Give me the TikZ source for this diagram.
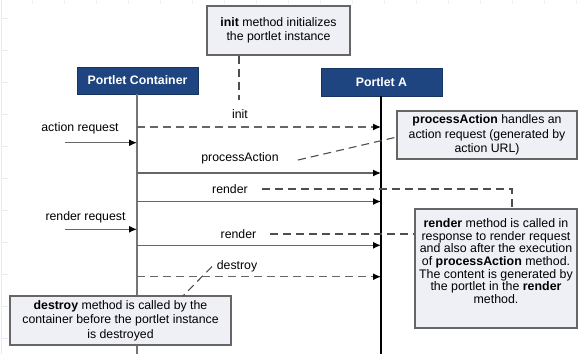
\documentclass[tikz,border=0pt]{standalone}
\usepackage{fontspec}
\setmainfont{Liberation Sans}
\usetikzlibrary{arrows.meta}

\definecolor{hdrblue}{HTML}{1F4580}
\definecolor{hdredge}{HTML}{163563}
\definecolor{notefill}{HTML}{EFEFF6}
\definecolor{noteedge}{HTML}{666666}
\definecolor{linegray}{HTML}{666666}
\definecolor{dashgray}{HTML}{4E4E4E}
\definecolor{gridblue}{HTML}{E6EBFA}

\begin{document}
\begin{tikzpicture}[x=1pt,y=-1pt,
  every node/.style={font=\fontsize{12.3}{14.5}\selectfont, inner sep=0pt},
  header/.style={draw=hdredge, fill=hdrblue, text=white, line width=0.8pt,
    font=\fontsize{12.3}{14.5}\selectfont\bfseries},
  note/.style={draw=noteedge, fill=notefill, line width=1.3pt, align=center},
  msg/.style={draw=linegray, line width=1.3pt,
    -{Latex[length=8pt,width=7pt,color=black]}},
  asyncmsg/.style={msg, dash pattern=on 8pt off 5pt},
  notelink/.style={draw=dashgray, line width=1.1pt, dash pattern=on 8pt off 5pt},
  gridtick/.style={draw=gridblue, line width=0.7pt}
]
\useasboundingbox (0,0) rectangle (578,354);

% faint page ruler ticks
\draw[gridtick] (1,0) -- (1,354);
\foreach \gx in {32,64,...,576} \draw[gridtick] (\gx,0) -- (\gx+1,4);
\foreach \gy in {18.7,50.7,...,340} \draw[gridtick] (2,\gy) -- (8,\gy);

% participants
\node[header, minimum width=121, minimum height=27] (hdrC) at (137.5,80.5) {Portlet Container};
\node[header, minimum width=121, minimum height=28] (hdrA) at (381.5,82) {Portlet A};

% lifelines
\coordinate (cEnd) at (137,354);
\coordinate (aEnd) at (381,354);
\draw[linegray!90, line width=1.8pt] (hdrC.south -| cEnd) -- (cEnd);
\draw[black, line width=1.2pt] (hdrA.south -| aEnd) -- (aEnd);

% message endpoints on the lifelines
\foreach \nm/\yy in {init/127, pa/173, r1/201.5, r2/245.3, des/276.7} {
  \coordinate (c-\nm) at (137,\yy);
  \coordinate (a-\nm) at (381,\yy);
}
\coordinate (c-areq) at (137,142.7);
\coordinate (c-rreq) at (137,229.3);
\coordinate (src-areq) at (65,142.7);
\coordinate (src-rreq) at (65,229.3);

% messages
\draw[asyncmsg] (c-init) -- (a-init);
\draw[msg] (src-areq) -- (c-areq);
\draw[msg] (c-pa) -- (a-pa);
\draw[msg] (c-r1) -- (a-r1);
\draw[msg] (src-rreq) -- (c-rreq);
\draw[msg] (c-r2) -- (a-r2);
\draw[asyncmsg] (c-des) -- (a-des);

% message labels
\node (lblInit) at (240,114) {init};
\node (lblAreq) at (80,128) {action request};
\node (lblPA) at (240,158) {processAction};
\node (lblR1) at (230,189) {render};
\node (lblRreq) at (85.5,217.5) {render request};
\node (lblR2) at (238.5,234) {render};
\node (lblDes) at (237,266.5) {destroy};

% notes
\node[note, minimum width=143, minimum height=49] (noteInit) at (278.5,30.5)
  {\textbf{init} method initializes\\the portlet instance};
\node[note, minimum width=180, minimum height=48] (notePA) at (487,135)
  {\textbf{processAction} handles an\\action request (generated by\\action URL)};
\node[note, minimum width=162, minimum height=119] (noteR) at (496,268.5) {};
\node[align=center, font=\fontsize{12.4}{12.7}\selectfont] (noteRtext) at (496,261)
  {\textbf{render} method is called in\\response to render request\\and also after the execution\\of \textbf{processAction} method.\\The content is generated by\\the portlet in the \textbf{render}\\method.};
\node[note, minimum width=221, minimum height=49] (noteD) at (120.5,320.5)
  {\textbf{destroy} method is called by the\\container before the portlet instance\\is destroyed};

% note links
\coordinate (initLinkEnd) at (239,100);
\draw[notelink] (noteInit.south -| initLinkEnd) -- (initLinkEnd);

\coordinate (paLinkStart) at (298,160);
\coordinate (paLinkEnd) at (397,137);
\draw[notelink] (paLinkStart) -- (paLinkEnd);

\coordinate (r1LinkStart) at (262,189);
\coordinate (r1LinkCorner) at (512,189);
\draw[notelink] (r1LinkStart) -- (r1LinkCorner) -- (noteR.north -| r1LinkCorner);

\coordinate (r2LinkStart) at (270,234);
\draw[notelink] (r2LinkStart) -- (noteR.west |- r2LinkStart);

\coordinate (desLinkStart) at (212,266.5);
\coordinate (desLinkEnd) at (183,296);
\draw[notelink] (desLinkStart) -- (desLinkEnd);
\end{tikzpicture}
\end{document}
